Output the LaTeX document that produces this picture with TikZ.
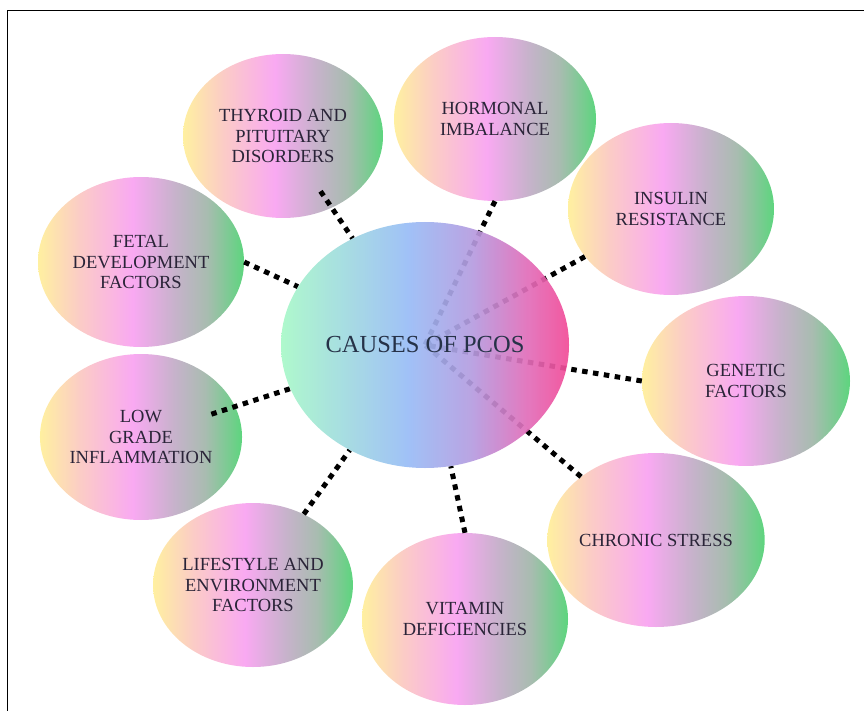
\documentclass[tikz,border=0pt]{standalone}
\usepackage{fontspec}
\setmainfont{Liberation Serif}
\usetikzlibrary{shapes.geometric}
% petal colours
\definecolor{pYel}{HTML}{FFF0A0}
\definecolor{pPeach}{HTML}{FBCCC6}
\definecolor{pPink}{HTML}{F9A9F2}
\definecolor{pMauve}{HTML}{C8B2CC}
\definecolor{pGrey}{HTML}{A8BCB0}
\definecolor{pGreen}{HTML}{5DD57E}
% hub colours
\definecolor{cMint}{HTML}{A8F8C8}
\definecolor{cBlue}{HTML}{98BCF6}
\definecolor{cLilac}{HTML}{B49CE0}
\definecolor{cRose}{HTML}{E26CB8}
\definecolor{cMag}{HTML}{F24A96}
\definecolor{labelc}{HTML}{2A2438}
\definecolor{hubtext}{HTML}{263248}
\pgfdeclarehorizontalshading{petalshade}{100bp}{color(0bp)=(pYel); color(25bp)=(pYel);
  color(35bp)=(pPeach); color(48bp)=(pPink); color(58bp)=(pMauve); color(66bp)=(pGrey);
  color(75bp)=(pGreen); color(100bp)=(pGreen)}
\pgfdeclarehorizontalshading{hubshade}{100bp}{color(0bp)=(cMint); color(25bp)=(cMint);
  color(47bp)=(cBlue); color(58bp)=(cLilac); color(68bp)=(cRose);
  color(75bp)=(cMag); color(100bp)=(cMag)}
\pgfdeclarelayer{petals}
\pgfdeclarelayer{links}
\pgfsetlayers{petals,links,main}
\tikzset{
  petal/.style={ellipse, shading=petalshade, inner sep=0pt, align=center,
    font=\fontsize{18.5}{20.5}\selectfont, text=labelc},
  hub/.style={ellipse, shading=hubshade, fill opacity=0.92, text opacity=1,
    inner sep=0pt, minimum width=288pt, minimum height=246pt,
    font=\fontsize{24.5}{28}\selectfont, text=hubtext},
  link/.style={line width=5pt, dash pattern=on 5.5pt off 5.5pt, black}
}

\begin{document}
\begin{tikzpicture}[x=1pt,y=-1pt]
\useasboundingbox (0,0) rectangle (864,711);
\draw[line width=1pt] (7,711) -- (7,11) -- (864,11);

\begin{pgfonlayer}{petals}
\node[petal, minimum width=200pt, minimum height=164pt] (thy) at (283,136) {THYROID AND\\PITUITARY\\DISORDERS};
\node[petal, minimum width=202pt, minimum height=164pt] (hor) at (495,119) {HORMONAL\\IMBALANCE};
\node[petal, minimum width=206pt, minimum height=172pt] (ins) at (671,209) {INSULIN\\RESISTANCE};
\node[petal, minimum width=208pt, minimum height=170pt] (gen) at (746,381) {GENETIC\\FACTORS};
\node[petal, minimum width=210pt, minimum height=174pt] (chr) at (656,540) {CHRONIC STRESS};
\node[petal, minimum width=206pt, minimum height=172pt] (vit) at (465,619) {VITAMIN\\DEFICIENCIES};
\node[petal, minimum width=196pt, minimum height=164pt] (life) at (253,585) {LIFESTYLE AND\\ENVIRONMENT\\FACTORS};
\node[petal, minimum width=202pt, minimum height=166pt] (low) at (141,437) {LOW\\GRADE\\INFLAMMATION};
\node[petal, minimum width=206pt, minimum height=170pt] (fet) at (141,262) {FETAL\\DEVELOPMENT\\FACTORS};
\end{pgfonlayer}

\node[hub] (cause) at (425,345) {CAUSES OF PCOS};

\begin{pgfonlayer}{links}
\draw[link, shorten <=-20pt] (thy) -- (cause);
\draw[link] (hor.south) -- (cause.center);
\draw[link] (ins) -- (cause.center);
\draw[link] (gen.west) -- (cause.center);
\draw[link] (chr) -- (cause.center);
\draw[link] (vit.north) -- (cause);
\draw[link] (life) -- (cause);
\draw[link, shorten <=-25pt] (low) -- (cause);
\draw[link] (fet.east) -- (cause);
\end{pgfonlayer}
\end{tikzpicture}
\end{document}
